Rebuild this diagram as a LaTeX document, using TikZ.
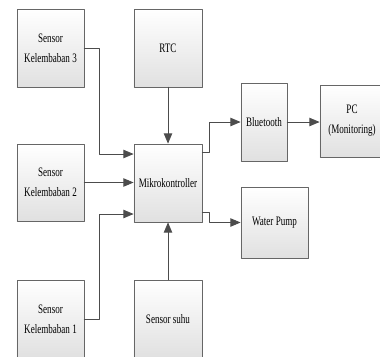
\documentclass[tikz,border=0pt]{standalone}
\usepackage{fontspec}
\setmainfont{Liberation Serif}[FakeStretch=0.7]
\usetikzlibrary{arrows,calc,shadows}
\begin{document}
\begin{tikzpicture}[line cap=round,line join=round,>=triangle 45,x=0.025cm,y=-0.025cm,
  blok/.style={draw=black!60,line width=0.6pt,top color=white,bottom color=black!12,align=center,inner sep=1pt,
    font=\fontsize{9.2}{14.2}\selectfont,drop shadow={shadow xshift=0.6pt,shadow yshift=-0.6pt,fill=black!30,opacity=0.5}},
  panah/.style={->,draw=black!70,line width=0.65pt}]
\useasboundingbox (0,0) rectangle (380,356);
\clip (0,0) rectangle (380,356);
\node[blok,minimum width=1.675cm,minimum height=1.95cm] (kel3) at (50.5,48) {Sensor\\Kelembaban 3};
\node[blok,minimum width=1.7cm,minimum height=1.95cm] (rtc) at (168,48) {RTC};
\node[blok,minimum width=1.675cm,minimum height=1.925cm] (kel2) at (50.5,182.5) {Sensor\\Kelembaban 2};
\node[blok,minimum width=1.7cm,minimum height=1.95cm] (mikro) at (168,183) {Mikrokontroller};
\node[blok,minimum width=1.675cm,minimum height=1.95cm] (kel1) at (50.5,319) {Sensor\\Kelembaban 1};
\node[blok,minimum width=1.7cm,minimum height=1.95cm] (suhu) at (168,319) {Sensor suhu};
\node[blok,minimum width=1.15cm,minimum height=1.95cm] (bt) at (264,122) {Bluetooth};
\node[blok,minimum width=1.6cm,minimum height=1.8cm] (pc) at (352,121) {PC\\(Monitoring)};
\node[blok,minimum width=1.675cm,minimum height=1.775cm] (pump) at (274.5,222.5) {Water Pump};
\draw[panah] (kel3.east) -- ++(15,0) |- ($(mikro.west)+(0,-29)$);
\draw[panah] (kel2.east) -- (kel2.east -| mikro.west);
\draw[panah] (kel1.east) -- ++(15,0) |- ($(mikro.west)+(0,31)$);
\draw[panah] (rtc.south) -- (mikro.north);
\draw[panah] (suhu.north) -- (mikro.south);
\draw[panah] ($(mikro.east)+(0,-31)$) -- ++(7,0) |- (bt.west);
\draw[panah] ($(mikro.east)+(0,29)$) -- ++(7,0) |- (pump.west);
\draw[panah] (bt.east) -- (bt.east -| pc.west);
\end{tikzpicture}
\end{document}
